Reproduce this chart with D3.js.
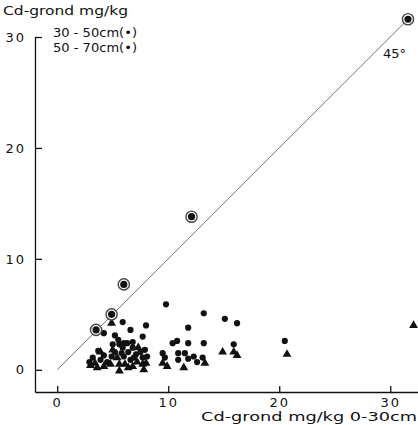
<!DOCTYPE html>
<html>
<head>
<meta charset="utf-8">
<script src="https://cdn.jsdelivr.net/npm/d3@7"></script>
<style>
  html, body { margin: 0; padding: 0; background: #fff; }
  svg { display: block; }
  text { font-family: "DejaVu Sans", sans-serif; fill: #111; }
</style>
</head>
<body>
<svg id="chart" width="418" height="425"></svg>
<script>
// Cd in soil, x = 0-30cm layer, y = deeper layers (mg/kg)
const xTicks = [0, 10, 20, 30];
const yTicks = [0, 10, 20, 30];

// 30-50 cm (dots)
const layer3050 = [
  [4.2, 3.3], [5.2, 3.1], [5.9, 4.3], [6.6, 3.6], [8.0, 4.0], [7.7, 3.0],
  [6.0, 2.4], [6.8, 2.5], [9.8, 5.9], [11.8, 3.8], [13.2, 5.1], [15.1, 4.6],
  [16.2, 4.2], [10.4, 2.4], [10.8, 2.6], [11.8, 2.4], [13.2, 2.4], [15.9, 2.3],
  [20.5, 2.6], [9.5, 1.5], [9.7, 1.1], [10.9, 1.5], [10.9, 0.9], [11.5, 1.5],
  [11.8, 1.0], [12.3, 1.2], [12.6, 0.7], [13.1, 1.1],
  [3.7, 1.7], [3.2, 1.1], [3.9, 0.9], [4.5, 0.7], [4.9, 1.2], [5.0, 2.3],
  [5.2, 1.6], [5.9, 2.0], [6.0, 1.2], [6.3, 2.4], [6.4, 1.6], [6.6, 0.9],
  [6.8, 2.0], [7.1, 1.4], [7.5, 1.6], [7.7, 1.1], [8.1, 1.2], [5.6, 2.3],
  [2.9, 0.7], [4.2, 1.3], [5.8, 1.5], [6.9, 1.1], [7.9, 1.8], [5.5, 2.7]
];

// 50-70 cm (triangles)
const layer5070 = [
  [4.9, 4.2], [14.9, 1.6], [15.9, 1.6], [16.2, 1.3], [20.7, 1.4], [32.1, 4.0],
  [9.9, 0.3], [11.4, 0.2], [13.3, 0.6], [9.5, 0.6],
  [3.4, 0.6], [3.6, 0.2], [4.2, 0.3], [5.4, 1.1], [5.6, 0.5], [5.6, -0.1],
  [6.8, 0.3], [7.2, 0.7], [7.7, 0.5], [7.8, 0.0], [4.8, 0.5], [6.1, 0.5],
  [6.4, 0.2], [3.0, 0.4], [5.0, 1.8], [7.3, 2.0], [3.9, 1.6], [8.0, 0.6]
];

// ringed points
const ringed = [[3.5, 3.6], [4.9, 5.0], [6.0, 7.7], [12.1, 13.8], [31.6, 31.6]];

const svg = d3.select("#chart");

const x = d3.scaleLinear().domain([-2, 32.5]).range([35, 418]);
const y = d3.scaleLinear().domain([-2, 30]).range([392, 37]);

// 45 degree line
svg.append("line")
  .attr("x1", x(0)).attr("y1", y(0))
  .attr("x2", x(31.6)).attr("y2", y(31.6))
  .attr("stroke", "#666")
  .attr("stroke-width", 0.9);

// axes
const gx = svg.append("g")
  .attr("transform", `translate(0, ${y(-2)})`)
  .call(d3.axisBottom(x).tickValues(xTicks).tickSize(-6).tickSizeOuter(0).tickPadding(6));
const gy = svg.append("g")
  .attr("transform", `translate(${x(-2)}, 0)`)
  .call(d3.axisLeft(y).tickValues(yTicks).tickSize(-7).tickSizeOuter(0).tickPadding(9));

[gx, gy].forEach((g) => {
  g.selectAll("path, line").attr("stroke", "#111").attr("stroke-width", 1.3);
  g.selectAll("text")
    .attr("fill", "#111")
    .style("font-size", "13px")
    .style("letter-spacing", "2px")
    .style("font-family", "'DejaVu Sans', sans-serif");
});

// points
svg.append("g")
  .selectAll("path")
  .data(layer5070)
  .join("path")
  .attr("transform", (d) => `translate(${x(d[0])}, ${y(d[1])})`)
  .attr("d", d3.symbol(d3.symbolTriangle, 34))
  .attr("fill", "#111");

svg.append("g")
  .selectAll("circle")
  .data(layer3050)
  .join("circle")
  .attr("cx", (d) => x(d[0]))
  .attr("cy", (d) => y(d[1]))
  .attr("r", 3.1)
  .attr("fill", "#111");

const gr = svg.append("g")
  .selectAll("g")
  .data(ringed)
  .join("g")
  .attr("transform", (d) => `translate(${x(d[0])}, ${y(d[1])})`);
gr.append("circle").attr("r", 5.6).attr("fill", "#fff").attr("stroke", "#444").attr("stroke-width", 1.4);
gr.append("circle").attr("r", 3.6).attr("fill", "#111");

// labels
svg.append("text")
  .attr("x", 383).attr("y", 58)
  .style("font-size", "13px")
  .text("45°");

svg.append("text")
  .attr("x", 3).attr("y", 15)
  .attr("textLength", 125).attr("lengthAdjust", "spacingAndGlyphs")
  .style("font-size", "13px")
  .text("Cd-grond mg/kg");

svg.selectAll(".legend")
  .data(["30 - 50cm(•)", "50 - 70cm(•)"])
  .join("text")
  .attr("class", "legend")
  .attr("x", 53)
  .attr("y", (d, i) => 37 + i * 15)
  .attr("textLength", 84).attr("lengthAdjust", "spacingAndGlyphs")
  .style("font-size", "13px")
  .text((d) => d);

svg.append("text")
  .attr("x", 201).attr("y", 421)
  .attr("textLength", 216).attr("lengthAdjust", "spacingAndGlyphs")
  .style("font-size", "13px")
  .text("Cd-grond mg/kg 0-30cm");
</script>
</body>
</html>
